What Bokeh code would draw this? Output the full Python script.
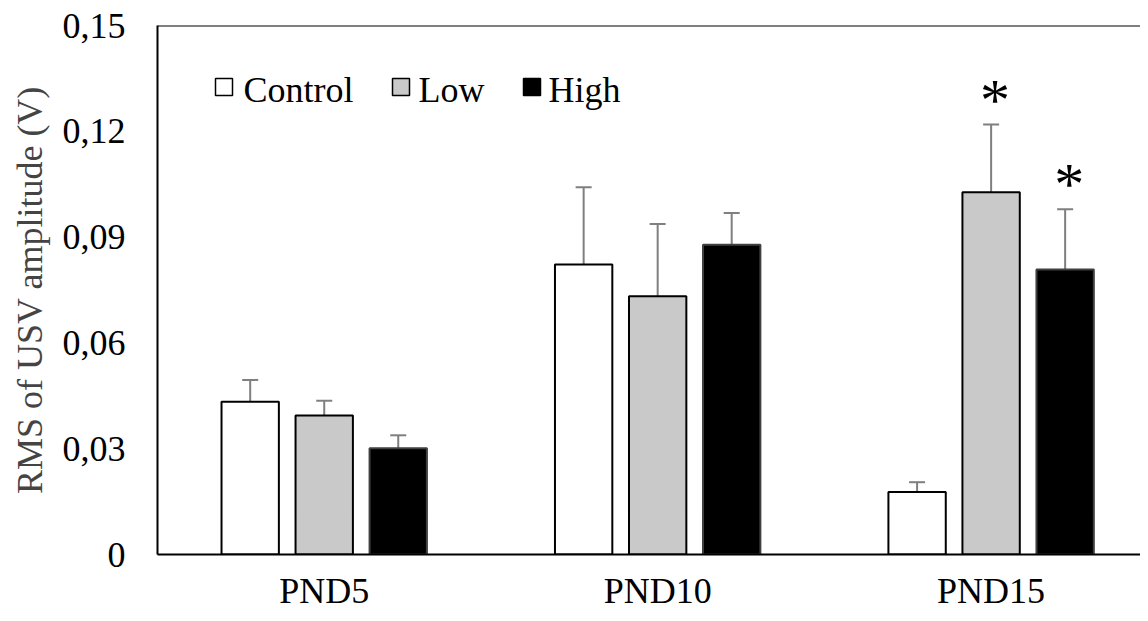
from bokeh.plotting import figure
from bokeh.models import (ColumnDataSource, Range1d, FixedTicker, CustomJSTickFormatter, Span,
                          Label, BoxAnnotation)
from bokeh.core.properties import value
from bokeh.embed import file_html
from bokeh.resources import INLINE

categories = ["PND5", "PND10", "PND15"]
groups = ["Control", "Low", "High"]
control = [0.0433, 0.0822, 0.0177]
control_err = [0.0062, 0.0219, 0.0028]
low = [0.0394, 0.0732, 0.1027]
low_err = [0.0042, 0.0205, 0.0192]
high = [0.0301, 0.0878, 0.0808]
high_err = [0.0037, 0.0090, 0.0171]
low_sig = [False, False, True]
high_sig = [False, False, True]
y_ticks = [0, 0.03, 0.06, 0.09, 0.12, 0.15]
y_title = "RMS of USV amplitude (V)"

FONT = "Liberation Serif"
fills = ["white", "#c9c9c9", "black"]
lines = ["black", "black", "#404040"]
series = [
    (control, control_err, None),
    (low, low_err, low_sig),
    (high, high_err, high_sig),
]
offsets = [-0.222, 0.0, 0.222]
cap_half = 0.024

p = figure(width=1140, height=613, output_backend="svg", toolbar_location=None,
           x_range=Range1d(0, 2.948), y_range=Range1d(0, 0.15),
           min_border_left=157, min_border_right=0, min_border_top=25, min_border_bottom=57)
p.outline_line_color = None
p.xgrid.visible = False
p.ygrid.visible = False

for (vals, errs, sig), off, fill, line in zip(series, offsets, fills, lines):
    xs = [i + 0.5 + off for i in range(len(categories))]
    ups = [v + e for v, e in zip(vals, errs)]
    src = ColumnDataSource(dict(x=xs, top=vals, upper=ups,
                                x0=[x - cap_half for x in xs], x1=[x + cap_half for x in xs]))
    p.segment(x0="x", y0="top", x1="x", y1="upper", source=src,
              line_color="#7f7f7f", line_width=2)
    p.segment(x0="x0", y0="upper", x1="x1", y1="upper", source=src,
              line_color="#7f7f7f", line_width=2)
    p.vbar(x="x", top="top", width=0.172, source=src, fill_color=fill,
           line_color=line, line_width=2)
    if sig is not None:
        sx = [x for x, s in zip(xs, sig) if s]
        sy = [u for u, s in zip(ups, sig) if s]
        p.text(x=sx, y=sy, text=["*"] * len(sx), text_font=value(FONT),
               text_font_size="60px", text_align="center", text_baseline="middle",
               x_offset=4, y_offset=-25, text_color="black")

p.add_layout(Span(location=0.15, dimension="width", line_color="black", line_width=2))

# legend (squares + serif labels), placed in screen units inside the frame
leg_sq_x = [58, 235, 366]
leg_txt_x = [86, 261, 391]
for g, fill, line, sx, tx in zip(groups, fills, lines, leg_sq_x, leg_txt_x):
    p.add_layout(BoxAnnotation(left=sx, right=sx + 17, bottom=459, top=476,
                               left_units="screen", right_units="screen",
                               bottom_units="screen", top_units="screen",
                               fill_color=fill, fill_alpha=1, line_color="black",
                               line_width=1.5, line_alpha=1, level="overlay"))
    p.add_layout(Label(x=tx, y=465, x_units="screen", y_units="screen", text=g,
                       text_font=FONT, text_font_size="36px", text_color="black",
                       text_baseline="middle", text_align="left"))

# axes
p.xaxis.ticker = FixedTicker(ticks=[i + 0.5 for i in range(len(categories))])
p.xaxis.major_label_overrides = {i + 0.5: c for i, c in enumerate(categories)}
p.yaxis.ticker = FixedTicker(ticks=y_ticks)
p.yaxis.formatter = CustomJSTickFormatter(
    code="return tick == 0 ? '0' : tick.toFixed(2).replace('.', ',');")
for ax in (p.xaxis[0], p.yaxis[0]):
    ax.axis_line_color = "black"
    ax.axis_line_width = 2
    ax.major_tick_line_color = None
    ax.minor_tick_line_color = None
    ax.major_tick_out = 0
    ax.major_tick_in = 0
    ax.major_label_text_font = FONT
    ax.major_label_text_font_size = "36px"
    ax.major_label_text_color = "black"
p.xaxis.major_label_standoff = 16
p.yaxis.major_label_standoff = 32
p.yaxis.axis_label = y_title
p.yaxis.axis_label_text_font = FONT
p.yaxis.axis_label_text_font_size = "36px"
p.yaxis.axis_label_text_font_style = "normal"
p.yaxis.axis_label_standoff = 10

open("out.html", "w").write(file_html(p, INLINE))
